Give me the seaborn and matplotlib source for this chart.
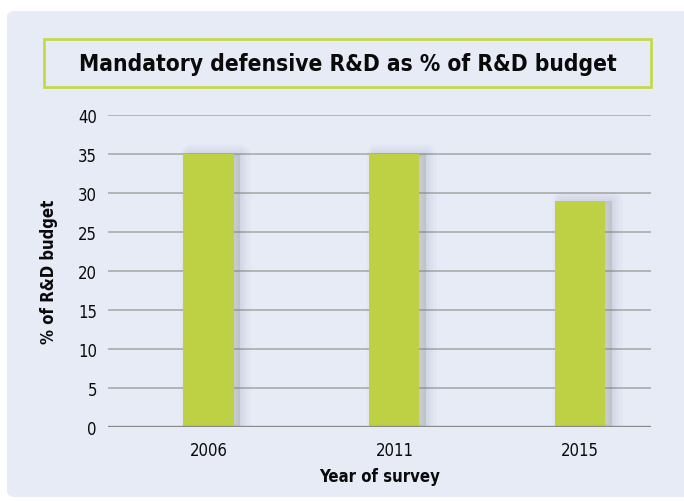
import pandas as pd
import seaborn as sns
import matplotlib.pyplot as plt
import matplotlib.patheffects as pe
from matplotlib.patches import FancyBboxPatch, Rectangle

# data
years = ['2006', '2011', '2015']
share = [35, 35, 29]

title = 'Mandatory defensive R&D as % of R&D budget'
panel_col = '#e7ebf6'
bar_col = '#bed043'
box_col = '#c6d84e'
shadow = '#4f5a8c'

df = pd.DataFrame({'year': years, 'share': share})

sns.set_theme(style='white')
plt.rcParams['font.family'] = ['DejaVu Sans']
plt.rcParams['font.stretch'] = 'condensed'

W, H = 684, 502
fig = plt.figure(figsize=(W / 100, H / 100), dpi=100)
fig.patch.set_facecolor('white')

# background panel with rounded corners
panel = FancyBboxPatch((7 / W, 4 / H), (W + 20 - 7) / W, (490 - 4) / H,
                       boxstyle='round,pad=0,rounding_size=0.012',
                       transform=fig.transFigure, facecolor=panel_col,
                       edgecolor='none', zorder=-10)
fig.patches.append(panel)

# title box
box = Rectangle((44 / W, (H - 88) / H), (651 - 44) / W, 48 / H,
                transform=fig.transFigure, facecolor='none',
                edgecolor=box_col, lw=2, zorder=-5)
fig.patches.append(box)
fig.text((44 + 651) / 2 / W, (H - 64) / H, title, ha='center', va='center',
         fontsize=16.3, fontweight='bold', color='#0a0a0a')

ax = fig.add_axes([108 / W, (H - 428) / H, (651 - 108) / W, (428 - 116) / H])
ax.set_facecolor('none')

sns.barplot(data=df, x='year', y='share', color=bar_col, width=0.27,
            saturation=1, linewidth=0, edgecolor='none', ax=ax, zorder=3)

# soft blurred shadow, mostly right of each bar
effects = []
for w in [14, 10, 6, 3]:
    effects.append(pe.Stroke(offset=(5, 0), linewidth=w, foreground=shadow,
                             alpha=0.03, joinstyle='round'))
effects.append(pe.SimplePatchShadow(offset=(5, 0), shadow_rgbFace=shadow, alpha=0.12))
effects.append(pe.Normal())
for p in ax.patches:
    p.set_path_effects(effects)

ax.set_ylim(0, 40)
ax.set_xlim(-0.54, 2.38)
ax.set_yticks(range(0, 41, 5))
ax.yaxis.grid(True, color='#a5a5a5', lw=1.1)
ax.set_axisbelow(True)
for s in ax.spines.values():
    s.set_visible(False)
ax.axhline(0, color='#8a8a8a', lw=2.4, zorder=4)

ax.tick_params(axis='both', length=0, labelsize=12, colors='#0a0a0a')
ax.tick_params(axis='x', pad=10)
ax.tick_params(axis='y', pad=8)
ax.set_xlabel('Year of survey', fontsize=12, fontweight='bold', labelpad=6, color='#0a0a0a')
ax.set_ylabel('% of R&D budget', fontsize=12, fontweight='bold', labelpad=14, color='#0a0a0a')

fig.savefig('out.png', dpi=100, facecolor='white')
